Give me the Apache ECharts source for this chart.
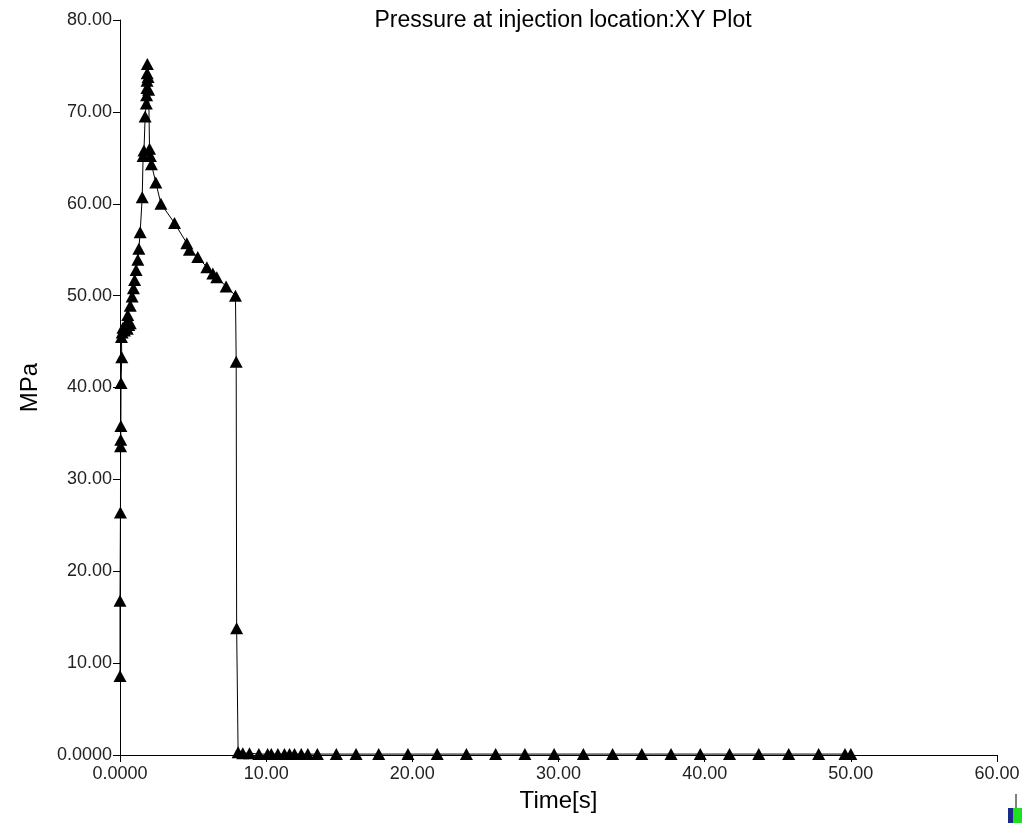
<!DOCTYPE html>
<html>
<head>
<meta charset="utf-8">
<title>Pressure at injection location</title>
<script src="https://cdn.jsdelivr.net/npm/echarts@6/dist/echarts.min.js"></script>
<style>
  html, body { margin: 0; padding: 0; background: #fff; }
  #main { width: 1027px; height: 823px; }
</style>
</head>
<body>
<div id="main"></div>
<script>
// time [s] and pressure [MPa]
var timeVals = [
  0.0, 0.0, 0.03, 0.04, 0.05, 0.06, 0.07, 0.12, 0.1, 0.15, 0.2, 0.3, 0.4, 0.5, 0.6, 0.7,
  0.42, 0.53, 0.70, 0.83, 0.92, 1.0, 1.1, 1.22, 1.29, 1.38, 1.52,
  1.58, 1.64, 1.72, 1.8, 1.82, 1.84, 1.85, 1.86, 1.87,
  1.92, 1.96, 2.02, 2.08, 2.15, 2.45, 2.8, 3.73, 4.57, 4.75, 5.32, 5.94, 6.35, 6.62, 7.26, 7.9,
  7.95, 7.98,
  8.08, 8.4, 8.86, 9.5, 10.1, 10.35, 10.8, 11.25, 11.6, 11.94, 12.4, 12.85, 13.5, 14.8, 16.15,
  17.7, 19.7, 21.7, 23.7, 25.7, 27.7, 29.7, 31.7, 33.7, 35.7, 37.7, 39.7, 41.7, 43.7, 45.75, 47.8, 49.6, 50.0
];
var pressureVals = [
  8.6, 16.8, 26.4, 33.6, 34.3, 35.8, 40.5, 43.3, 45.5, 46.0, 46.5, 46.2, 46.6, 46.4, 46.8, 47.0,
  47.0, 47.9, 48.9, 49.9, 50.8, 51.7, 52.8, 53.9, 55.1, 56.9, 60.7,
  65.2, 65.8, 69.5, 70.9, 71.8, 72.6, 73.4, 74.2, 75.2,
  73.8, 72.4, 66.0, 65.2, 64.3, 62.3, 60.0, 57.9, 55.7, 55.0, 54.2, 53.1, 52.4, 52.0, 51.0, 50.0,
  42.8, 13.8,
  0.3, 0.2, 0.2, 0.1, 0.1, 0.1, 0.1, 0.1, 0.1, 0.1, 0.1, 0.1, 0.1, 0.1, 0.1,
  0.1, 0.1, 0.1, 0.1, 0.1, 0.1, 0.1, 0.1, 0.1, 0.1, 0.1, 0.1, 0.1, 0.1, 0.1, 0.1, 0.1, 0.1
];
var xTicks = [0, 10, 20, 30, 40, 50, 60];
var yTicks = [0, 10, 20, 30, 40, 50, 60, 70, 80];

function fmtTick(v) {
  return v === 0 ? '0.0000' : v.toFixed(2);
}

var chart = echarts.init(document.getElementById('main'));

var points = [];
for (var i = 0; i < timeVals.length; i++) {
  points.push([timeVals[i], pressureVals[i]]);
}

var fontFam = '"Liberation Sans", Arial, sans-serif';

var option = {
  backgroundColor: '#ffffff',
  animation: false,
  title: {
    text: 'Pressure at injection location:XY Plot',
    left: 558,
    top: 4,
    textAlign: 'center',
    textStyle: { fontFamily: fontFam, fontSize: 23, fontWeight: 'normal', color: '#000' }
  },
  grid: { left: 120, right: 30, top: 20, bottom: 68, containLabel: false },
  xAxis: {
    type: 'value',
    min: xTicks[0],
    max: xTicks[xTicks.length - 1],
    interval: 10,
    name: 'Time[s]',
    nameLocation: 'middle',
    nameGap: 34,
    nameTextStyle: { fontFamily: fontFam, fontSize: 24, color: '#000' },
    axisLine: { show: true, onZero: false, lineStyle: { color: '#000', width: 1 } },
    axisTick: { show: true, length: 7, lineStyle: { color: '#000' } },
    axisLabel: { fontFamily: fontFam, fontSize: 18, color: '#222', margin: 10, formatter: fmtTick },
    splitLine: { show: false }
  },
  yAxis: {
    type: 'value',
    min: yTicks[0],
    max: yTicks[yTicks.length - 1],
    interval: 10,
    name: 'MPa',
    nameLocation: 'middle',
    nameGap: 78,
    nameRotate: 90,
    nameTextStyle: { fontFamily: fontFam, fontSize: 24, color: '#000' },
    axisLine: { show: true, onZero: false, lineStyle: { color: '#000', width: 1 } },
    axisTick: { show: true, length: 7, lineStyle: { color: '#000' } },
    axisLabel: { fontFamily: fontFam, fontSize: 18, color: '#222', margin: 8, formatter: fmtTick },
    splitLine: { show: false }
  },
  series: [{
    type: 'line',
    data: points,
    symbol: 'triangle',
    symbolSize: [13, 12],
    showAllSymbol: true,
    lineStyle: { color: '#000', width: 1 },
    itemStyle: { color: '#000', borderWidth: 0 }
  }],
  graphic: [
    { type: 'line', shape: { x1: 1016, y1: 794, x2: 1016, y2: 808 }, style: { stroke: '#000', lineWidth: 1 } },
    { type: 'rect', shape: { x: 1008, y: 808, width: 5, height: 15 }, style: { fill: '#1a2a8a' } },
    { type: 'rect', shape: { x: 1013, y: 808, width: 9, height: 15 }, style: { fill: '#22dd22' } }
  ]
};

chart.setOption(option);
</script>
</body>
</html>
